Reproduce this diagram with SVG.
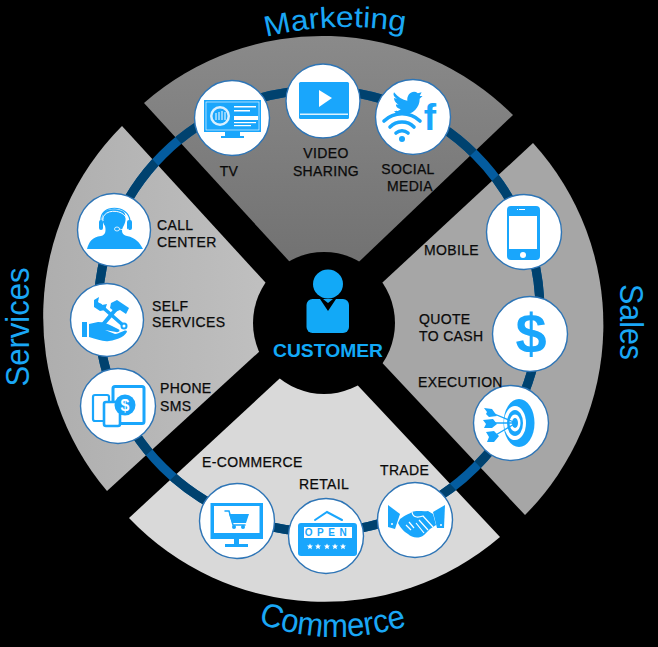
<svg xmlns="http://www.w3.org/2000/svg" xmlns:xlink="http://www.w3.org/1999/xlink" width="658" height="647" viewBox="0 0 658 647">
<style>
.lab{font-family:"Liberation Sans",Arial,sans-serif;font-size:14px;fill:#0a0a0a;stroke:#0a0a0a;stroke-width:.25px;letter-spacing:.35px}
.mid{text-anchor:middle}
.title{font-family:"Liberation Sans",Arial,sans-serif;font-size:33px;fill:#1aa7f5}
.node{fill:#fff;stroke:#2e75b6;stroke-width:1.4}
.ic{fill:#19a6fc}
.icw{fill:#fff}
.ln{fill:none;stroke:#19a6fc;stroke-linecap:round}
.lnw{fill:none;stroke:#fff}
</style>
<defs>
<linearGradient id="gm" x1="0" y1="0" x2="0" y2="1"><stop offset="0" stop-color="#8a8a8a"/><stop offset="1" stop-color="#6e6e6e"/></linearGradient>
<linearGradient id="gs" x1="0" y1="0" x2="1" y2="0"><stop offset="0" stop-color="#aeaeae"/><stop offset="1" stop-color="#c2c2c2"/></linearGradient>
<clipPath id="sectorsClip">
<path d="M144 103A270 270 0 0 1 513 115L322 297Z"/>
<path d="M533 143A270 270 0 0 1 525 515L342 320Z"/>
<path d="M500 537A270 270 0 0 1 129 518L318 343Z"/>
<path d="M107 491A270 270 0 0 1 122 126L297 317Z"/>
</clipPath>
<polygon id="star" points="0,-3 .9,-.9 3,-.9 1.4,.5 1.9,2.7 0,1.4 -1.9,2.7 -1.4,.5 -3,-.9 -.9,-.9" fill="#fff"/>
<path id="marketingArc" d="M266 37Q335 20 405 32"/>
<path id="commerceArc" d="M258 623Q333 650 409 625"/>
</defs>
<rect width="658" height="647" fill="#000"/>
<g id="sectors">
<path d="M144 103A270 270 0 0 1 513 115L322 297Z" fill="url(#gm)"/>
<path d="M533 143A270 270 0 0 1 525 515L342 320Z" fill="#a6a6a6"/>
<path d="M500 537A270 270 0 0 1 129 518L318 343Z" fill="#d9d9d9"/>
<path d="M107 491A270 270 0 0 1 122 126L297 317Z" fill="url(#gs)"/>
</g>
<g id="connectors" fill="none" stroke-width="9">
<circle cx="319" cy="311" r="221" stroke="#045c9f"/>
<circle cx="319" cy="311" r="221" stroke="#00426f" clip-path="url(#sectorsClip)"/>
</g>
<g id="titles">
<text class="title" style="font-size:29px"><textPath xlink:href="#marketingArc" href="#marketingArc" textLength="140" lengthAdjust="spacingAndGlyphs">Marketing</textPath></text>
<text class="title"><textPath xlink:href="#commerceArc" href="#commerceArc" textLength="152" lengthAdjust="spacingAndGlyphs">Commerce</textPath></text>
<text class="title mid" transform="translate(29 327) rotate(-90)" textLength="119" lengthAdjust="spacingAndGlyphs">Services</text>
<text class="title mid" transform="translate(620 322) rotate(90)" textLength="76" lengthAdjust="spacingAndGlyphs">Sales</text>
</g>
<g id="customer">
<circle cx="324" cy="323" r="71" fill="#000"/>
<ellipse cx="328" cy="284" rx="15" ry="14.500" fill="#12a9f7"/>
<rect x="306.500" y="299" width="42.500" height="34" rx="6" fill="#12a9f7"/>
<path d="M320 299L328 311L336 299L333 299L328 303L323 299Z" fill="#000"/>
<text x="328" y="357" text-anchor="middle" font-family="'Liberation Sans',Arial,sans-serif" font-weight="700" font-size="19" fill="#12a9f7" textLength="110" lengthAdjust="spacingAndGlyphs">CUSTOMER</text>
</g>
<g id="tv" transform="translate(232 118)">
<circle class="node" r="37.500"/>
<rect class="ic" x="-28" y="-18" width="57" height="32"/>
<rect x="-26" y="-16" width="53" height="28" fill="none" stroke="#fff" stroke-width=".6"/>
<rect class="ic" x="-7" y="14" width="15" height="4"/><rect class="ic" x="-11" y="18" width="23" height="2"/>
<circle r="10" cx="-12" cy="-2" fill="#d9f0ff"/><circle r="7.500" cx="-12" cy="-2" class="ic"/>
<path d="M-16 2V-5M-13 2V-6M-10 2V-7M-7 2V-6" class="lnw" stroke-width="1"/>
<rect class="icw" x="2" y="-12" width="22" height="1.500"/><rect class="icw" x="2" y="-8" width="16" height="1.500"/>
<rect class="icw" x="2" y="-2" width="24" height="4"/><rect class="icw" x="2" y="4" width="22" height="1.200"/><rect class="icw" x="2" y="7" width="17" height="1.200"/>
<text class="lab mid" x="-3" y="58">TV</text>
</g>
<g id="video-sharing" transform="translate(323 101)">
<circle class="node" r="37"/>
<rect class="ic" x="-24" y="-19" width="50" height="37" rx="1.500"/>
<path class="icw" d="M-4-11L9-3L-4 6Z"/>
<rect class="icw" x="-23" y="12.500" width="48" height="1.500" opacity=".85"/>
<text class="lab mid" x="3" y="57">VIDEO</text>
<text class="lab mid" x="3" y="75">SHARING</text>
</g>
<g id="social-media" transform="translate(413 117)">
<circle class="node" r="37.500"/>
<path class="ic" d="M-21-24C-17-19-12-16-7-15C-8-22-1-27 4-23L8-24L6-20L9-20L6-17C6-8-1 0-11 0C-15 0-19-1-21-4C-18-4-16-4-14-6C-18-7-19-9-19-11H-16C-20-13-21-16-21-18L-18-17C-22-20-22-22-21-24Z" transform="translate(1 -2) scale(.95)"/>
<text x="17" y="13" font-family="'Liberation Sans',Arial,sans-serif" font-weight="700" font-size="37" fill="#19a6fc" text-anchor="middle">f</text>
<circle class="ic" cx="-11" cy="22" r="3"/>
<path class="ln" stroke-width="3.600" d="M-17 16A9 9 0 0 1-5 16M-23 10A17 17 0 0 1 1 10M-29 4A26 26 0 0 1 7 4"/>
<text class="lab mid" x="-5" y="57">SOCIAL</text>
<text class="lab mid" x="-3" y="74">MEDIA</text>
</g>
<g id="mobile" transform="translate(524 232)">
<circle class="node" r="37.500"/>
<rect class="ic" x="-17" y="-26" width="33" height="54" rx="4"/>
<rect class="icw" x="-15" y="-16" width="28" height="33"/>
<rect class="icw" x="-5" y="-23" width="6" height="1"/><rect class="icw" x="-7" y="-23" width="1" height="1"/>
<circle class="icw" cx="-1" cy="23" r="3"/>
<text class="lab" x="-100" y="23">MOBILE</text>
</g>
<g id="quote-to-cash" transform="translate(530 334)">
<circle class="node" r="37.500"/>
<text x="1" y="19" font-family="'Liberation Sans',Arial,sans-serif" font-weight="700" font-size="56" fill="#19a6fc" text-anchor="middle">$</text>
<text class="lab" x="-111" y="-10">QUOTE</text>
<text class="lab" x="-111" y="7">TO CASH</text>
</g>
<g id="execution" transform="translate(511 423)">
<circle class="node" r="37.500"/>
<ellipse class="ic" cx="8" cy="0" rx="15.500" ry="24"/>
<ellipse class="icw" cx="4" cy="0" rx="11" ry="17"/>
<ellipse class="ic" cx="4" cy="0" rx="8" ry="13"/>
<ellipse class="icw" cx="4" cy="0" rx="5.500" ry="8.500"/>
<ellipse class="ic" cx="4" cy="0" rx="3" ry="5"/>
<path d="M-19-10L5 0M-20 0H5M-17 13L5 0" stroke="#19a6fc" stroke-width="1.300"/>
<path class="ic" d="M-27-15L-19-14L-14-7L-22-6L-25-9L-24-11Z"/>
<path class="ic" d="M-28-3L-18-4L-14 1L-19 5L-27 5L-25 1Z"/>
<path class="ic" d="M-25 9L-17 8L-12 13L-17 19L-24 19L-22 14Z"/>
<text class="lab" x="-93" y="-36">EXECUTION</text>
</g>
<g id="trade" transform="translate(415 520)">
<circle class="node" r="37.500"/>
<path class="ic" d="M-27-15L-15-6L-20 9L-27 7Z"/>
<path class="ic" d="M30-15L18-8L22 8L29 8Z"/>
<path class="ic" d="M-15-1C-10-5-6-6-3-8C2-10 8-8 13-9L18-6L21 5L15 9L9 15C4 19-3 18-7 14C-11 12-15 7-17 3Z"/>
<path class="lnw" stroke-width="1.200" d="M-3-8C-2-1 5-3 8-4L18 7M4 0L13 10M1 3L9 13M-9 5L-4 10M-6 2L-1 8"/>
<circle class="icw" cx="-23" cy="4" r="1"/><circle class="icw" cx="26" cy="5" r="1"/>
<text class="lab" x="-35" y="-45">TRADE</text>
</g>
<g id="retail" transform="translate(326 536)">
<circle class="node" r="37.500"/>
<path class="ln" stroke-width="2" fill="none" d="M-11-16L1-24L16-16"/>
<rect class="ic" x="-28" y="-13" width="59" height="33" rx="3"/>
<rect class="icw" x="-22" y="-9" width="48" height="11"/>
<text x="2" y="0" text-anchor="middle" font-family="'Liberation Sans',Arial,sans-serif" font-weight="700" font-size="10" letter-spacing="4.500" fill="#19a6fc">OPEN</text>
<use href="#star" xlink:href="#star" x="-16" y="10.500"/><use href="#star" xlink:href="#star" x="-8" y="10.500"/><use href="#star" xlink:href="#star" x="1" y="10.500"/><use href="#star" xlink:href="#star" x="9" y="10.500"/><use href="#star" xlink:href="#star" x="17" y="10.500"/>
<text class="lab" x="-27" y="-47">RETAIL</text>
</g>
<g id="e-commerce" transform="translate(237 521)">
<circle class="node" r="37.500"/>
<rect class="ic" x="-26.500" y="-18" width="52.500" height="36"/>
<rect class="icw" x="-23" y="-15" width="45.500" height="27"/>
<path class="ic" d="M-12 23H11V26H-12Z"/><rect class="ic" x="-3" y="18" width="5" height="5"/>
<path class="ln" stroke-width="1.500" d="M-12-10H-8L-4 4H8"/>
<path class="ic" d="M-8-7H12L9 2H-5Z"/>
<circle class="ic" cx="-3" cy="6" r="2"/><circle class="ic" cx="6" cy="6" r="2"/>
<text class="lab" x="-35" y="-54" letter-spacing=".2">E-COMMERCE</text>
</g>
<g id="phone-sms" transform="translate(118 406)">
<circle class="node" r="37.500"/>
<rect class="icw" x="-5" y="-19.500" width="31" height="37" rx="2" stroke="#19a6fc" stroke-width="3"/>
<rect class="icw" x="-25" y="-11" width="16" height="26" rx="2" stroke="#19a6fc" stroke-width="2.200"/>
<rect class="icw" x="-14" y="-4" width="16" height="24" rx="2" stroke="#19a6fc" stroke-width="2.600"/>
<circle class="ic" cx="7" cy="-1" r="10.500"/>
<text x="7" y="5" text-anchor="middle" font-family="'Liberation Sans',Arial,sans-serif" font-weight="700" font-size="16" fill="#fff">$</text>
<text class="lab" x="42" y="-13">PHONE</text>
<text class="lab" x="42" y="5">SMS</text>
</g>
<g id="self-services" transform="translate(107 320)">
<circle class="node" r="36.500"/>
<path class="ln" stroke-width="3.500" d="M-7-15L17 6"/>
<path class="ic" d="M-13-20L-8-23L-9-18L-5-15L0-16L-2-10L-7-9L-13-13Z"/>
<circle class="ic" cx="17" cy="6" r="3.500"/><circle class="icw" cx="17" cy="6" r="1.500"/>
<path class="ln" stroke-width="4" d="M10-12L-7 8"/>
<path class="ic" d="M4-17L10-20L22-12L19-6L13-10L8-8L3-12Z"/>
<path class="ic" d="M-25 2H-20V17H-25Z"/>
<path class="ic" d="M-18 4L-9 2C-4 2 1 4 5 6L11 9C14 10 12 13 9 12L-2 10L8 14C14 13 18 9 20 11C20 15 11 20 2 21C-4 22-10 19-18 17Z"/>
<text class="lab" x="45" y="-9">SELF</text>
<text class="lab" x="45" y="7">SERVICES</text>
</g>
<g id="call-center" transform="translate(114 230)">
<circle class="node" r="36.500"/>
<path class="ic" d="M-27 19C-25 12-22 7-13 6C-8 5-8 0-9 -4C-12-8-12-13-11-17C-8-22 9-22 11-16C12-11 12-8 9-3C7 1 8 5 13 6C22 8 25 12 29 19Z"/>
<path d="M-13-9C-15-26 15-26 16-9" fill="none" stroke="#19a6fc" stroke-width="1.200"/>
<path d="M-11-9C-13-22 12-22 13-9" class="lnw" stroke-width="1"/>
<rect class="ic" x="-15" y="-10" width="4" height="10" rx="2"/><rect class="ic" x="13" y="-10" width="5" height="10" rx="2"/>
<path d="M15-1C14 0 9 0 5 -1" fill="none" stroke="#fff" stroke-width=".8"/>
<ellipse class="ic" cx="3" cy="-1" rx="2.500" ry="2" stroke="#fff" stroke-width=".8"/>
<text class="lab" x="43" y="0">CALL</text>
<text class="lab" x="43" y="17">CENTER</text>
</g>
</svg>
